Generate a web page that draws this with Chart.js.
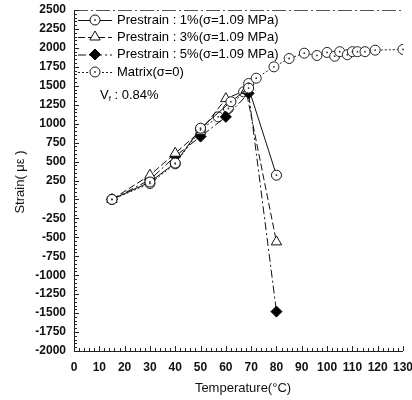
<!DOCTYPE html>
<html><head><meta charset="utf-8">
<script src="https://cdn.jsdelivr.net/npm/chart.js@4.4.1/dist/chart.umd.min.js"></script>
<style>html,body{margin:0;padding:0;background:#fff}</style></head>
<body><canvas id="c" width="412" height="400"></canvas>
<script>
// ---- data ----
const seriesNames = ['Prestrain : 1%(\u03c3=1.09 MPa)', 'Prestrain : 3%(\u03c3=1.09 MPa)', 'Prestrain : 5%(\u03c3=1.09 MPa)', 'Matrix(\u03c3=0)'];
const temp1 = [15, 30, 40, 50, 62, 69, 80];
const strain1 = [0, 230, 480, 940, 1290, 1470, 320];
const temp3 = [15, 30, 40, 50, 60, 68, 80];
const strain3 = [0, 320, 610, 900, 1330, 1440, -560];
const temp5 = [15, 30, 40, 50, 60, 69, 80];
const strain5 = [0, 260, 570, 830, 1090, 1400, -1480];
const tempM = [15, 30, 40, 50, 57, 61, 67, 69, 72, 79, 85, 91, 96, 100, 103, 105, 108, 110, 112, 115, 119, 130];
const strainM = [0, 210, 470, 920, 1090, 1200, 1420, 1530, 1600, 1750, 1860, 1930, 1900, 1940, 1890, 1950, 1910, 1950, 1950, 1950, 1970, 1980];
const xTicks = [0, 10, 20, 30, 40, 50, 60, 70, 80, 90, 100, 110, 120, 130];
const yTicks = [-2000, -1750, -1500, -1250, -1000, -750, -500, -250, 0, 250, 500, 750, 1000, 1250, 1500, 1750, 2000, 2250, 2500];
const xTitle = 'Temperature(\u00b0C)';
const yTitle = 'Strain( \u03bc\u03b5 )';
const noteMain = 'V';
const noteSub = 'f';
const noteRest = ' : 0.84%';

const pts = (xs, ys) => xs.map((x, i) => ({x: x, y: ys[i]}));
const FONT = '"Liberation Sans", Arial, sans-serif';

const datasets = [
  {label: seriesNames[0], data: pts(temp1, strain1), borderColor: '#111', borderWidth: 1, pointStyle: 'circle', pointRadius: 5, pointBackgroundColor: '#fff', pointBorderColor: '#111', pointBorderWidth: 1, borderDash: [], dot: true},
  {label: seriesNames[1], data: pts(temp3, strain3), borderColor: '#111', borderWidth: 1, pointStyle: 'triangle', pointRadius: 6, pointBackgroundColor: '#fff', pointBorderColor: '#111', pointBorderWidth: 1, borderDash: [7, 3]},
  {label: seriesNames[2], data: pts(temp5, strain5), borderColor: '#111', borderWidth: 1, pointStyle: 'rectRot', pointRadius: 5.5, pointBackgroundColor: '#000', pointBorderColor: '#000', pointBorderWidth: 1, borderDash: [8, 3, 2, 3]},
  {label: seriesNames[3], data: pts(tempM, strainM), borderColor: '#222', borderWidth: 1, pointStyle: 'circle', pointRadius: 5, pointBackgroundColor: '#fff', pointBorderColor: '#222', pointBorderWidth: 1, borderDash: [2, 2], dot: true}
];

const decor = {
  id: 'decor',
  afterDatasetsDraw(chart) {
    const ctx = chart.ctx;
    chart.data.datasets.forEach((ds, i) => {
      if (!ds.dot) return;
      chart.getDatasetMeta(i).data.forEach(p => {
        ctx.fillStyle = '#333';
        ctx.beginPath(); ctx.arc(p.x, p.y, 0.9, 0, Math.PI * 2); ctx.fill();
      });
    });
  },
  afterDraw(chart) {
    const ctx = chart.ctx, a = chart.chartArea, xs = chart.scales.x, ys = chart.scales.y;
    ctx.save();
    ctx.strokeStyle = '#222'; ctx.lineWidth = 1;
    ctx.beginPath();
    ctx.moveTo(a.left + 0.5, a.top); ctx.lineTo(a.left + 0.5, a.bottom + 0.5); ctx.lineTo(a.right, a.bottom + 0.5);
    ctx.stroke();
    ctx.strokeStyle = '#555'; ctx.setLineDash([14, 3, 2, 3]);
    ctx.beginPath(); ctx.moveTo(a.left, a.top + 0.5); ctx.lineTo(a.right, a.top + 0.5); ctx.stroke();
    ctx.setLineDash([]); ctx.strokeStyle = '#222';
    for (let v = ys.min; v <= ys.max; v += 50) {
      const y = Math.round(ys.getPixelForValue(v)) + 0.5;
      const major = v % 250 === 0;
      ctx.beginPath(); ctx.moveTo(a.left, y); ctx.lineTo(a.left + (major ? 5 : 3), y); ctx.stroke();
    }
    for (let v = xs.min; v <= xs.max; v += 2) {
      const x = Math.round(xs.getPixelForValue(v)) + 0.5;
      const major = v % 10 === 0;
      ctx.beginPath(); ctx.moveTo(x, a.bottom); ctx.lineTo(x, a.bottom - (major ? 5 : 3)); ctx.stroke();
    }
    ctx.fillStyle = '#111';
    ctx.font = '13px ' + FONT;
    ctx.textAlign = 'center'; ctx.textBaseline = 'middle';
    ctx.fillText(xTitle, 243, 388);
    ctx.save(); ctx.translate(20, 182); ctx.rotate(-Math.PI / 2); ctx.fillText(yTitle, 0, 0); ctx.restore();
    const rows = [20, 37, 54.5, 72];
    ctx.font = '13px ' + FONT; ctx.textAlign = 'left';
    chart.data.datasets.forEach((ds, i) => {
      const y = rows[i];
      ctx.strokeStyle = ds.borderColor; ctx.lineWidth = 1; ctx.setLineDash(ds.borderDash);
      ctx.beginPath(); ctx.moveTo(78, y + 0.5); ctx.lineTo(112, y + 0.5); ctx.stroke();
      ctx.setLineDash([]);
      ctx.fillStyle = ds.pointBackgroundColor; ctx.strokeStyle = ds.pointBorderColor;
      Chart.helpers.drawPoint(ctx, {pointStyle: ds.pointStyle, radius: ds.pointRadius, borderWidth: 1}, 95, y);
      if (ds.dot) { ctx.fillStyle = '#333'; ctx.beginPath(); ctx.arc(95, y, 0.9, 0, Math.PI * 2); ctx.fill(); }
      ctx.fillStyle = '#000';
      ctx.fillText(ds.label, 117, y);
    });
    ctx.fillText(noteMain, 100, 95);
    const w = ctx.measureText(noteMain).width;
    ctx.font = '8px ' + FONT;
    ctx.fillText(noteSub, 100 + w, 99);
    const w2 = ctx.measureText(noteSub).width;
    ctx.font = '13px ' + FONT;
    ctx.fillText(noteRest, 100 + w + w2, 95);
    ctx.restore();
  }
};

new Chart(document.getElementById('c'), {
  type: 'line',
  data: {datasets: datasets},
  options: {
    responsive: false, animation: false, devicePixelRatio: 1,
    layout: {padding: {top: 10, right: 9, left: 0, bottom: 0}},
    plugins: {legend: {display: false}, tooltip: {enabled: false}},
    elements: {line: {tension: 0}},
    scales: {
      x: {
        type: 'linear', min: 0, max: 130,
        grid: {display: false, drawTicks: false}, border: {display: false},
        afterBuildTicks: s => { s.ticks = xTicks.map(v => ({value: v})); },
        afterFit: s => { s.height = 49; s.paddingLeft = 0; s.paddingRight = 0; },
        ticks: {padding: 9, color: '#111', font: {family: FONT, size: 12, weight: 'bold'}, maxRotation: 0, autoSkip: false, callback: v => String(v)}
      },
      y: {
        type: 'linear', min: -2000, max: 2500,
        grid: {display: false, drawTicks: false}, border: {display: false},
        afterBuildTicks: s => { s.ticks = yTicks.map(v => ({value: v})); },
        afterFit: s => { s.width = 74; s.paddingTop = 0; s.paddingBottom = 0; },
        ticks: {padding: 8, color: '#111', font: {family: FONT, size: 12, weight: 'bold'}, autoSkip: false, callback: v => String(v)}
      }
    }
  },
  plugins: [decor]
});
</script></body></html>
